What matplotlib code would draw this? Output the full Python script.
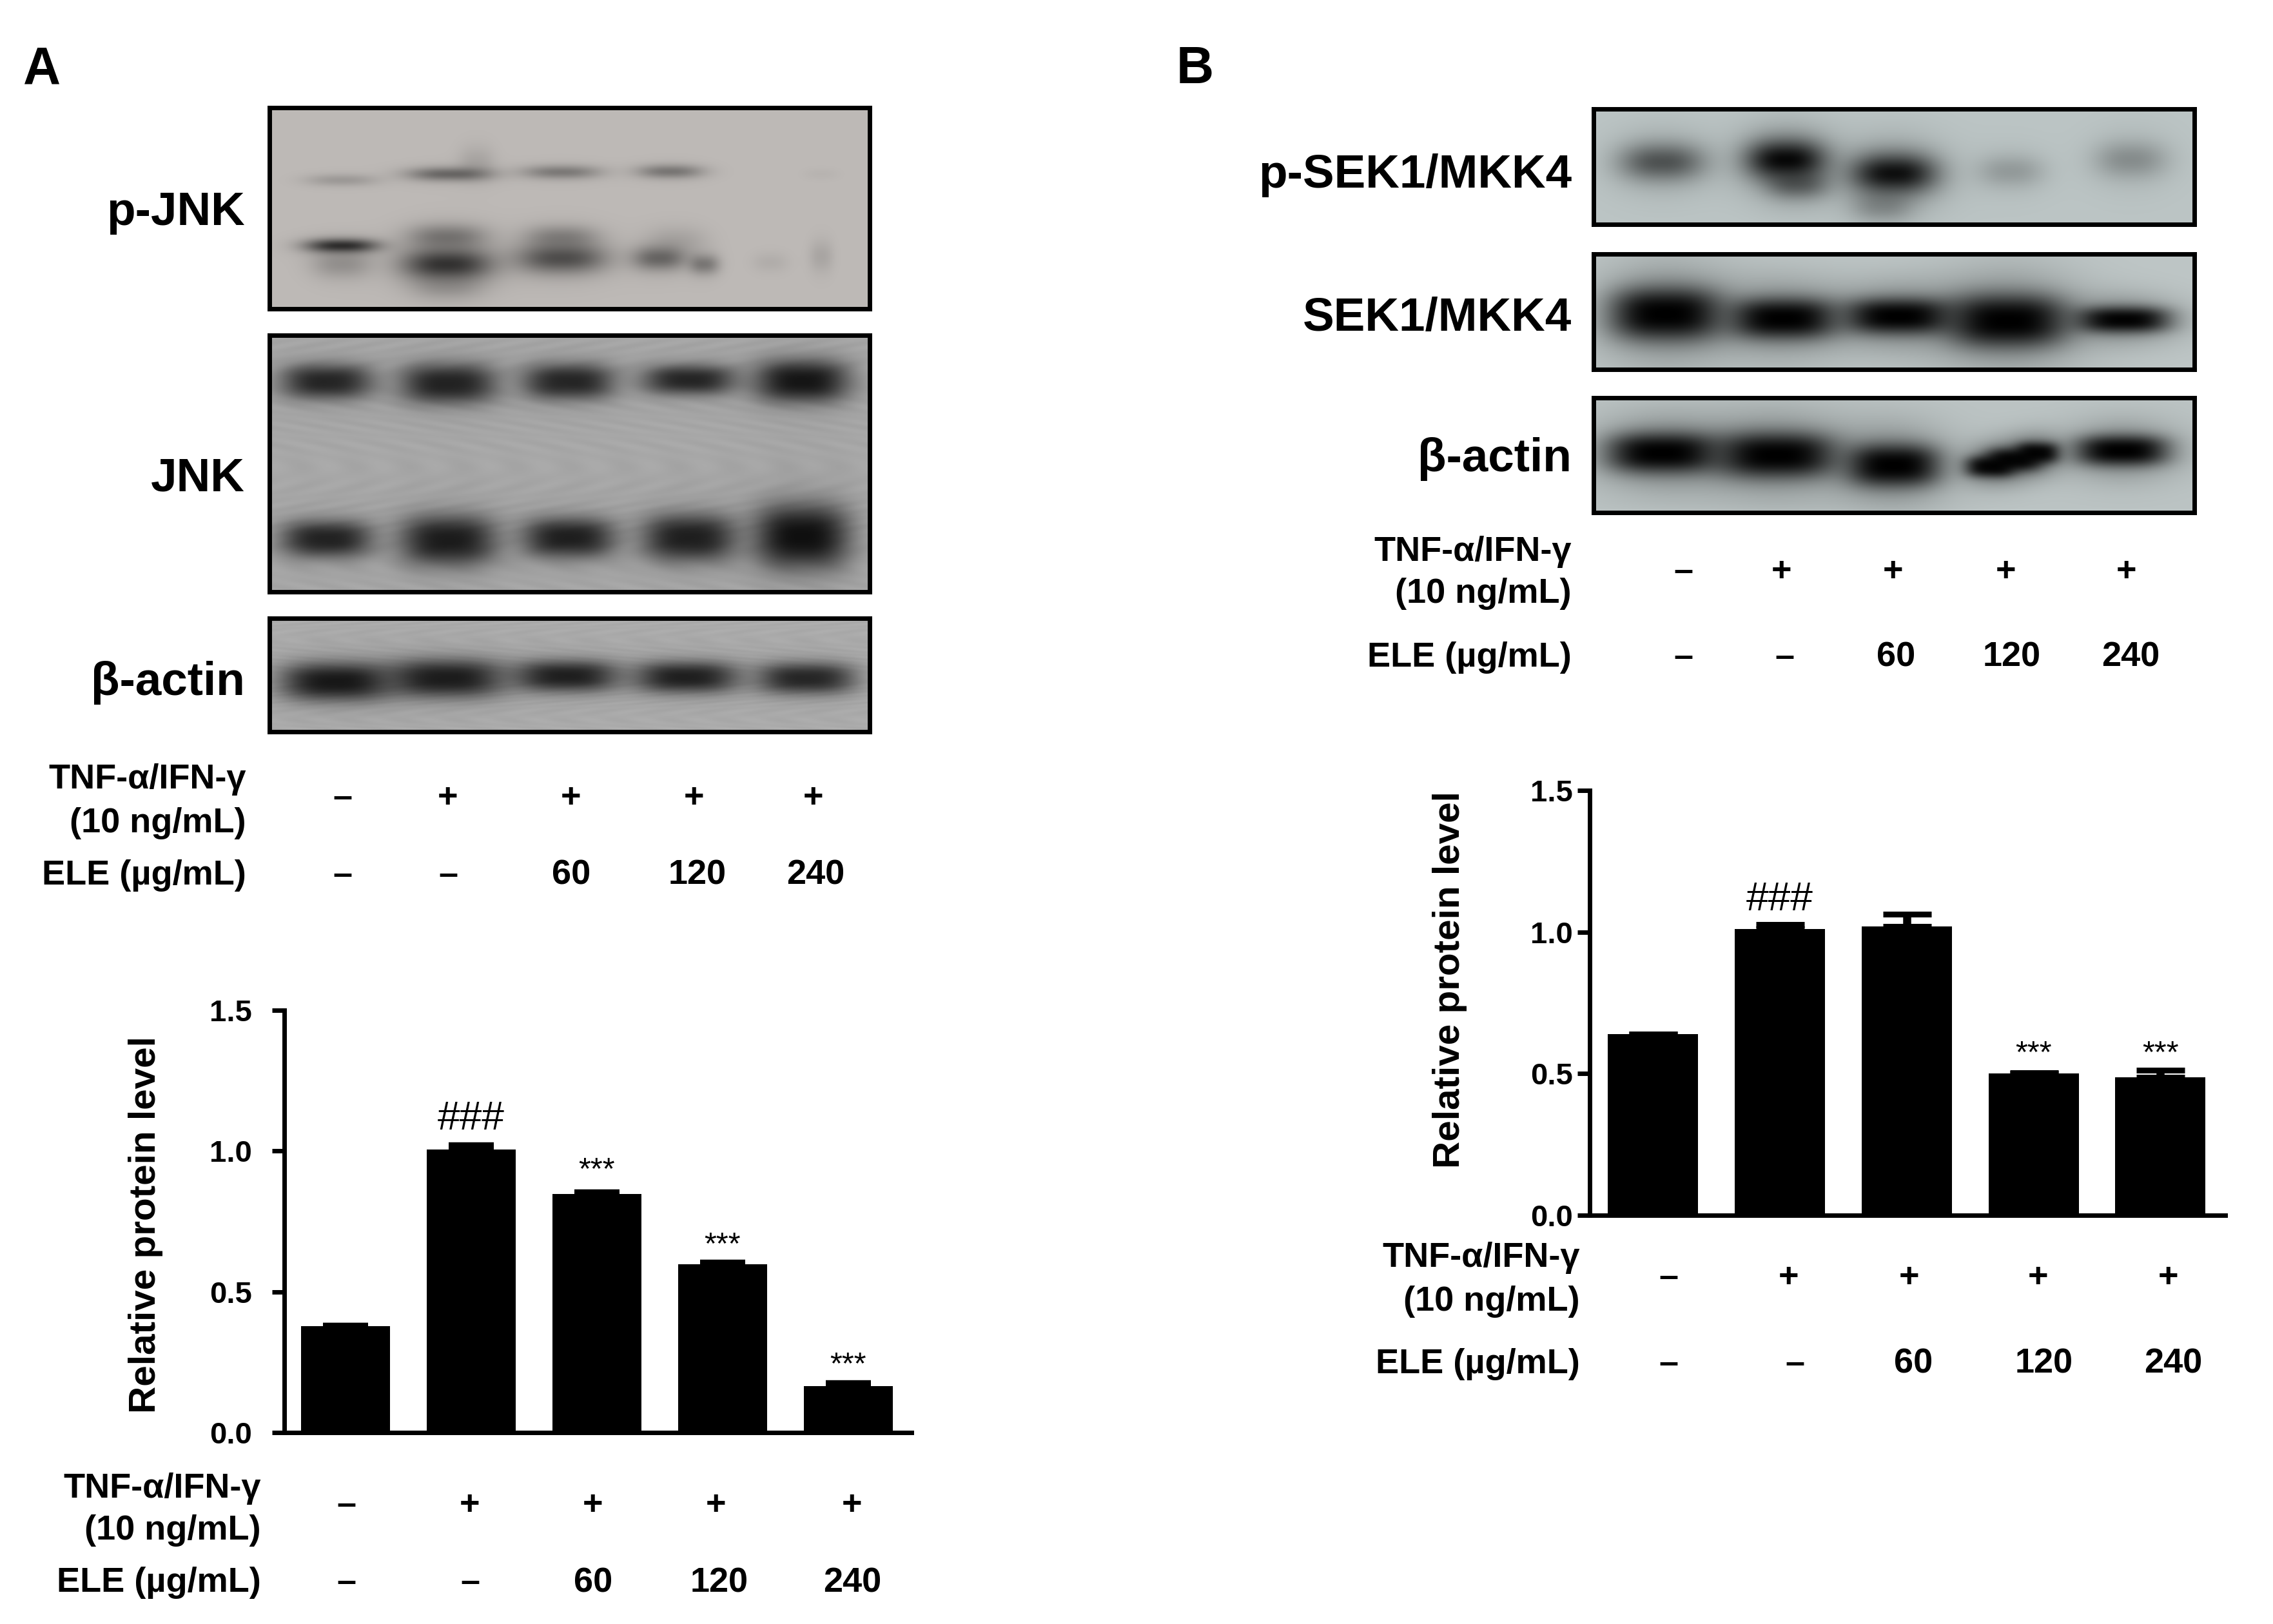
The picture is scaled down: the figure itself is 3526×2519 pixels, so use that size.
#!/usr/bin/env python
import matplotlib
matplotlib.use("Agg")
import matplotlib.pyplot as plt
import numpy as np

plt.rcParams["font.family"] = ["Liberation Sans", "DejaVu Sans"]
plt.rcParams["font.weight"] = "bold"

W, H = 3526, 2519

# Bar values
level_a = [0.378, 1.005, 0.848, 0.597, 0.164]
err_a = [0.0, 0.0136, 0.0046, 0.0046, 0.0096]
level_b = [0.64, 1.01, 1.02, 0.50, 0.487]
err_b = [0.0, 0.0155, 0.0437, 0.003, 0.0257]

yticks = [0.0, 0.5, 1.0, 1.5]
tnf_labels = ["–", "+", "+", "+", "+"]
ele_labels = ["–", "–", "60", "120", "240"]

# Band tables: (x, y, half width, half height, darkness) as fractions of the panel
pjnk_bands = [
    (0.12, 0.36, 0.06, 0.03, 0.16), (0.30, 0.33, 0.07, 0.034, 0.42), (0.345, 0.27, 0.03, 0.08, 0.10),
    (0.487, 0.32, 0.065, 0.034, 0.32), (0.668, 0.317, 0.055, 0.034, 0.34), (0.92, 0.33, 0.03, 0.03, 0.03),
    (0.12, 0.687, 0.06, 0.034, 0.72), (0.12, 0.78, 0.05, 0.07, 0.20),
    (0.296, 0.78, 0.075, 0.08, 0.70), (0.296, 0.64, 0.065, 0.06, 0.32), (0.296, 0.90, 0.06, 0.06, 0.14),
    (0.487, 0.75, 0.075, 0.075, 0.55), (0.487, 0.64, 0.06, 0.055, 0.25),
    (0.65, 0.75, 0.045, 0.06, 0.42), (0.725, 0.78, 0.025, 0.05, 0.32), (0.68, 0.66, 0.05, 0.07, 0.10),
    (0.92, 0.74, 0.02, 0.08, 0.10), (0.835, 0.77, 0.03, 0.05, 0.06),
]
jnk_bands = [
    (0.095, 0.18, 0.076, 0.068, 0.76), (0.298, 0.188, 0.08, 0.078, 0.78), (0.499, 0.18, 0.076, 0.07, 0.76),
    (0.70, 0.173, 0.077, 0.058, 0.76), (0.888, 0.178, 0.078, 0.083, 0.86),
    (0.095, 0.795, 0.076, 0.072, 0.78), (0.298, 0.80, 0.08, 0.098, 0.82), (0.499, 0.79, 0.077, 0.078, 0.80),
    (0.70, 0.79, 0.078, 0.092, 0.80), (0.888, 0.785, 0.079, 0.125, 0.90),
]
actin_a_bands = [
    (0.11, 0.56, 0.092, 0.17, 0.85), (0.295, 0.53, 0.096, 0.17, 0.82), (0.495, 0.51, 0.086, 0.14, 0.80),
    (0.695, 0.52, 0.086, 0.14, 0.80), (0.895, 0.53, 0.082, 0.14, 0.76),
]
psek_bands = [
    (0.114, 0.46, 0.07, 0.16, 0.52), (0.32, 0.44, 0.065, 0.17, 0.95), (0.34, 0.66, 0.05, 0.12, 0.36),
    (0.50, 0.56, 0.07, 0.17, 0.90), (0.48, 0.85, 0.05, 0.13, 0.20),
    (0.695, 0.54, 0.055, 0.14, 0.18), (0.895, 0.44, 0.06, 0.16, 0.24),
]
sek_bands = [
    (0.12, 0.52, 0.09, 0.22, 1.0), (0.316, 0.56, 0.085, 0.17, 1.0), (0.507, 0.54, 0.085, 0.15, 1.0),
    (0.69, 0.58, 0.095, 0.22, 1.0), (0.883, 0.57, 0.075, 0.11, 0.98),
]
actin_b_bands = [
    (0.114, 0.48, 0.09, 0.17, 1.0), (0.305, 0.50, 0.095, 0.19, 1.0), (0.50, 0.59, 0.075, 0.18, 1.0),
    (0.66, 0.60, 0.04, 0.09, 0.95), (0.70, 0.54, 0.045, 0.10, 0.95), (0.74, 0.48, 0.035, 0.09, 0.95),
    (0.88, 0.46, 0.075, 0.13, 1.0),
]


def px_axes(fig, x0, y0, x1, y1):
    """Add axes from pixel edges, y counted from the top"""
    return fig.add_axes([x0 / W, 1 - y1 / H, (x1 - x0) / W, (y1 - y0) / H])


def draw_blot(fig, box, bands, bg, halo, texture=0.0, edge=(3, 2.5)):
    """Build a soft band image for one blot and frame it"""
    x0, y0, x1, y1 = box
    yy, xx = np.mgrid[0:1:(y1 - y0) * 1j, 0:1:(x1 - x0) * 1j]
    keep = np.ones_like(xx)
    for bx, by, hw, hh, dark in bands:
        dx, dy = np.abs(xx - bx), np.abs(yy - by)
        core = np.exp(-(dx / hw) ** edge[0] - (dy / hh) ** edge[1])
        glow = np.exp(-(dx / (hw * 1.25)) ** 2 - (dy / (hh * 1.9)) ** 2)
        keep *= 1 - dark * core
        keep *= 1 - halo * dark * glow
    if texture:
        keep *= 1 + texture * np.sin(70 * xx + 18 * np.sin(9 * yy)) * np.sin(40 * yy)
    img = np.clip(np.array(bg)[None, None, :] * keep[:, :, None] / 255, 0, 1)
    ax = px_axes(fig, x0, y0, x1, y1)
    ax.imshow(img, aspect="auto", interpolation="bilinear")
    ax.set_xticks([])
    ax.set_yticks([])
    for sp in ax.spines.values():
        sp.set_linewidth(5)


def draw_bars(fig, box, first, step, values, errs, bar_w, cap, cap_thick, pad, marks):
    """Bar panel with upper error bars and significance marks"""
    x0, y0, x1, y1 = box
    ax = px_axes(fig, x0, y0, x1, y1)
    pos = np.arange(len(values))
    ax.bar(pos, values, width=bar_w / step, color="black", linewidth=0)
    ax.errorbar(pos, values, yerr=[np.zeros(len(errs)), errs], fmt="none", ecolor="black",
                elinewidth=9, capsize=cap, capthick=cap_thick)
    ax.set_xlim((x0 - first) / step, (x1 - first) / step)
    ax.set_ylim(0, 1.5)
    ax.set_yticks(yticks)
    ax.set_yticklabels([f"{t:.1f}" for t in yticks], fontsize=34)
    ax.set_xticks([])
    ax.tick_params(axis="y", length=14, width=5, pad=pad)
    ax.spines["top"].set_visible(False)
    ax.spines["right"].set_visible(False)
    ax.spines["left"].set_linewidth(5)
    ax.spines["bottom"].set_linewidth(5)
    ax.patch.set_alpha(0)
    for i, y, txt in marks:
        size = 45 if txt == "###" else 35
        ax.text(i, y, txt, ha="center", va="center", fontsize=size, fontweight="normal")
    return ax


def treat_labels(over, right, y_tnf, y_ele, tnf_x, ele_x, y_sym, size=39):
    """The TNF and ELE rows under a panel"""
    over.text(right, y_tnf[0], "TNF-α/IFN-γ", ha="right", va="center", fontsize=size)
    over.text(right, y_tnf[1], "(10 ng/mL)", ha="right", va="center", fontsize=size)
    over.text(right, y_ele, "ELE (µg/mL)", ha="right", va="center", fontsize=size)
    for x, lab in zip(tnf_x, tnf_labels):
        over.text(x, y_sym, lab, ha="center", va="center", fontsize=size)
    for x, lab in zip(ele_x, ele_labels):
        over.text(x, y_ele, lab, ha="center", va="center", fontsize=size)


fig = plt.figure(figsize=(W / 100, H / 100), dpi=100)

# Panel A blots
draw_blot(fig, (418, 167, 1349, 479), pjnk_bands, (190, 186, 183), 0.12, edge=(2.5, 2))
draw_blot(fig, (418, 520, 1349, 918), jnk_bands, (168, 168, 168), 0.10, texture=0.02)
draw_blot(fig, (418, 959, 1349, 1135), actin_a_bands, (172, 172, 172), 0.10, texture=0.02)

# Panel B blots
draw_blot(fig, (2472, 169, 3404, 348), psek_bands, (188, 197, 197), 0.25, edge=(2.5, 2))
draw_blot(fig, (2472, 394, 3404, 573), sek_bands, (190, 198, 198), 0.35)
draw_blot(fig, (2472, 617, 3404, 795), actin_b_bands, (188, 196, 196), 0.35)

# Bar panels
draw_bars(fig, (441, 1567, 1414, 2222), 536, 195, level_a, err_a, 138, 25, 7.5, 22,
          [(1, 1.115, "###"), (2, 0.93, "***"), (3, 0.665, "***"), (4, 0.24, "***")])
draw_bars(fig, (2466, 1226, 3452, 1885), 2563.5, 197, level_b, err_b, 140, 27, 6.5, 5,
          [(1, 1.115, "###"), (3, 0.57, "***"), (4, 0.57, "***")])

# Text overlay in pixel coordinates
over = fig.add_axes([0, 0, 1, 1])
over.set_xlim(0, W)
over.set_ylim(H, 0)
over.axis("off")
over.patch.set_alpha(0)

over.text(36, 108, "A", ha="left", va="center", fontsize=58)
over.text(1825, 108, "B", ha="left", va="center", fontsize=58)

for y, lab in [(330, "p-JNK"), (742, "JNK"), (1059, "β-actin")]:
    over.text(380, y, lab, ha="right", va="center", fontsize=52.5)
for y, lab in [(272, "p-SEK1/MKK4"), (494, "SEK1/MKK4"), (712, "β-actin")]:
    over.text(2438, y, lab, ha="right", va="center", fontsize=52.5)

over.text(226, 1900, "Relative protein level", rotation=90, ha="center", va="center", fontsize=42)
over.text(2249, 1520, "Relative protein level", rotation=90, ha="center", va="center", fontsize=42)

treat_labels(over, 382, (1209, 1277), 1358, [531, 695, 886, 1077, 1262], [531, 695, 886, 1082, 1265], 1238)
treat_labels(over, 405, (2309, 2374), 2455, [537, 729, 920, 1111, 1322], [537, 729, 920, 1116, 1322], 2335)
treat_labels(over, 2438, (856, 921), 1020, [2611, 2764, 2937, 3112, 3299], [2611, 2768, 2941, 3121, 3305], 887)
treat_labels(over, 2451, (1951, 2019), 2116, [2588, 2775, 2962, 3162, 3364], [2588, 2784, 2968, 3171, 3371], 1982)

fig.savefig("out.png", dpi=100)
